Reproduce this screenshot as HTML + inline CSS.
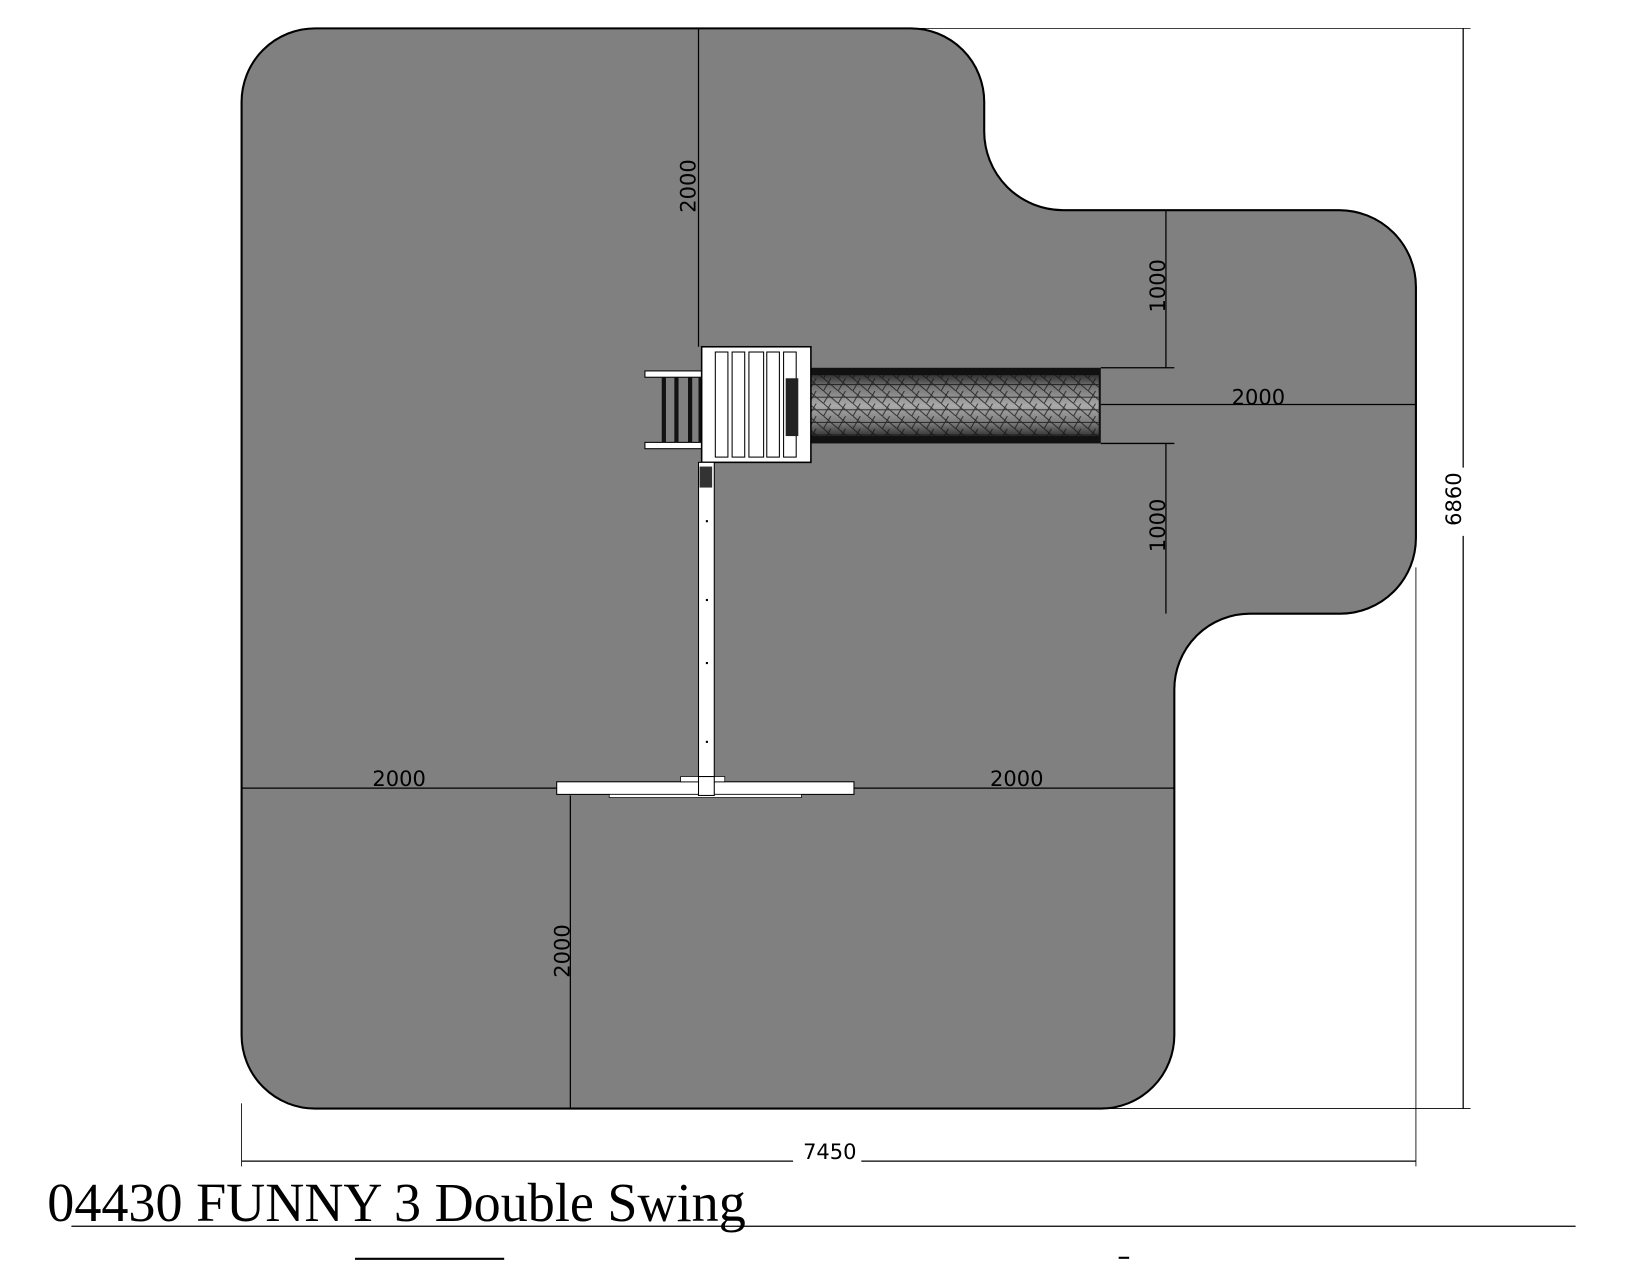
<!DOCTYPE html>
<html><head><style>html,body{margin:0;padding:0;background:#fff;overflow:hidden}svg{display:block}</style></head>
<body>
<svg width="1647" height="1262" viewBox="0 0 1568 1201" preserveAspectRatio="none" xmlns="http://www.w3.org/2000/svg" font-family="DejaVu Sans, Liberation Sans, sans-serif">
<defs>
<linearGradient id="sg" x1="0" y1="0" x2="0" y2="1">
<stop offset="0" stop-color="#333"/><stop offset="0.2" stop-color="#777"/><stop offset="0.5" stop-color="#aaa"/><stop offset="0.8" stop-color="#777"/><stop offset="1" stop-color="#333"/>
</linearGradient>
<pattern id="tri" width="14" height="12" patternUnits="userSpaceOnUse">
<path d="M0 0L14 12M0 12L7 0M0 6H14" stroke="#111" stroke-width="0.9" fill="none"/>
</pattern>
</defs>
<path d="M300 27 H867 A70 70 0 0 1 937 97 V125 A75 75 0 0 0 1012 200 H1275 A73 73 0 0 1 1348 273 V512 A72 72 0 0 1 1276 584 H1190 A72 72 0 0 0 1118 656 V985 A70 70 0 0 1 1048 1055 H300 A70 70 0 0 1 230 985 V97 A70 70 0 0 1 300 27 Z" fill="#808080" stroke="#000" stroke-width="2"/>
<g stroke="#000" stroke-width="1.2" fill="none">
<line x1="665" y1="27" x2="665" y2="330"/>
<line x1="870" y1="27" x2="1400" y2="27" stroke-width="0.8"/>
<line x1="1393" y1="27" x2="1393" y2="445"/><line x1="1393" y1="510" x2="1393" y2="1055"/>
<line x1="1050" y1="1055" x2="1400" y2="1055" stroke-width="0.8"/>
<line x1="1110" y1="200" x2="1110" y2="350"/><line x1="1110" y1="422" x2="1110" y2="584"/>
<line x1="1048" y1="350" x2="1118" y2="350"/><line x1="1048" y1="422" x2="1118" y2="422"/>
<line x1="1048" y1="385" x2="1348" y2="385"/>
<line x1="230" y1="750" x2="530" y2="750"/><line x1="813" y1="750" x2="1118" y2="750"/>
<line x1="543" y1="757" x2="543" y2="1055"/>
<line x1="230" y1="1050" x2="230" y2="1110" stroke-width="0.8"/>
<line x1="1348" y1="540" x2="1348" y2="1110" stroke-width="0.8"/>
<line x1="230" y1="1105" x2="755" y2="1105"/><line x1="820" y1="1105" x2="1348" y2="1105"/>
<line x1="68" y1="1167" x2="1500" y2="1167"/>
<line x1="338" y1="1198" x2="480" y2="1198" stroke-width="2"/>
<line x1="1065" y1="1197" x2="1075" y2="1197" stroke-width="2"/>
</g>
<g font-size="20" fill="#000">
<text transform="translate(662,177) rotate(-90)" text-anchor="middle">2000</text>
<text transform="translate(1391,475) rotate(-90)" text-anchor="middle">6860</text>
<text transform="translate(1109,272) rotate(-90)" text-anchor="middle">1000</text>
<text transform="translate(1109,500) rotate(-90)" text-anchor="middle">1000</text>
<text transform="translate(542,905) rotate(-90)" text-anchor="middle">2000</text>
<text x="1198" y="385" text-anchor="middle">2000</text>
<text x="380" y="748" text-anchor="middle">2000</text>
<text x="968" y="748" text-anchor="middle">2000</text>
<text x="790" y="1103" text-anchor="middle">7450</text>
</g>
<text x="45" y="1162" font-family="Liberation Serif, serif" font-size="52" fill="#000" textLength="665" lengthAdjust="spacingAndGlyphs">04430 FUNNY 3 Double Swing</text>
<rect x="760" y="350" width="288" height="72" fill="#111"/>
<rect x="762" y="357" width="284" height="58" fill="url(#sg)"/>
<rect x="762" y="357" width="284" height="58" fill="url(#tri)" opacity="0.8"/>
<rect x="614" y="353" width="54" height="6" fill="#fff" stroke="#000"/>
<rect x="614" y="421" width="54" height="6" fill="#fff" stroke="#000"/>
<g fill="#111"><rect x="630" y="359" width="4" height="62"/><rect x="642" y="359" width="4" height="62"/><rect x="655" y="359" width="4" height="62"/><rect x="665" y="359" width="4" height="62"/></g>
<rect x="668" y="330" width="104" height="110" fill="#fff" stroke="#000" stroke-width="1.5"/>
<g fill="#fff" stroke="#000" stroke-width="1">
<rect x="681" y="335" width="12" height="100"/><rect x="697" y="335" width="12" height="100"/><rect x="713" y="335" width="14" height="100"/><rect x="730" y="335" width="12" height="100"/><rect x="746" y="335" width="12" height="100"/>
</g>
<rect x="748" y="360" width="12" height="55" fill="#222"/>
<rect x="665" y="440" width="15" height="317" fill="#fff" stroke="#000"/>
<rect x="666" y="444" width="12" height="20" fill="#333"/>
<g fill="#000"><rect x="672" y="495" width="2" height="2"/><rect x="672" y="570" width="2" height="2"/><rect x="672" y="630" width="2" height="2"/><rect x="672" y="705" width="2" height="2"/><rect x="686" y="741" width="3" height="3"/></g>
<rect x="530" y="744" width="283" height="12" fill="#fff" stroke="#000"/>
<rect x="580" y="756" width="183" height="3" fill="#fff" stroke="#000" stroke-width="0.7"/>
<rect x="648" y="739" width="42" height="5" fill="#fff" stroke="#000" stroke-width="0.7"/>
<rect x="665" y="739" width="15" height="18" fill="#fff" stroke="#000"/>
</svg>
</body></html>
